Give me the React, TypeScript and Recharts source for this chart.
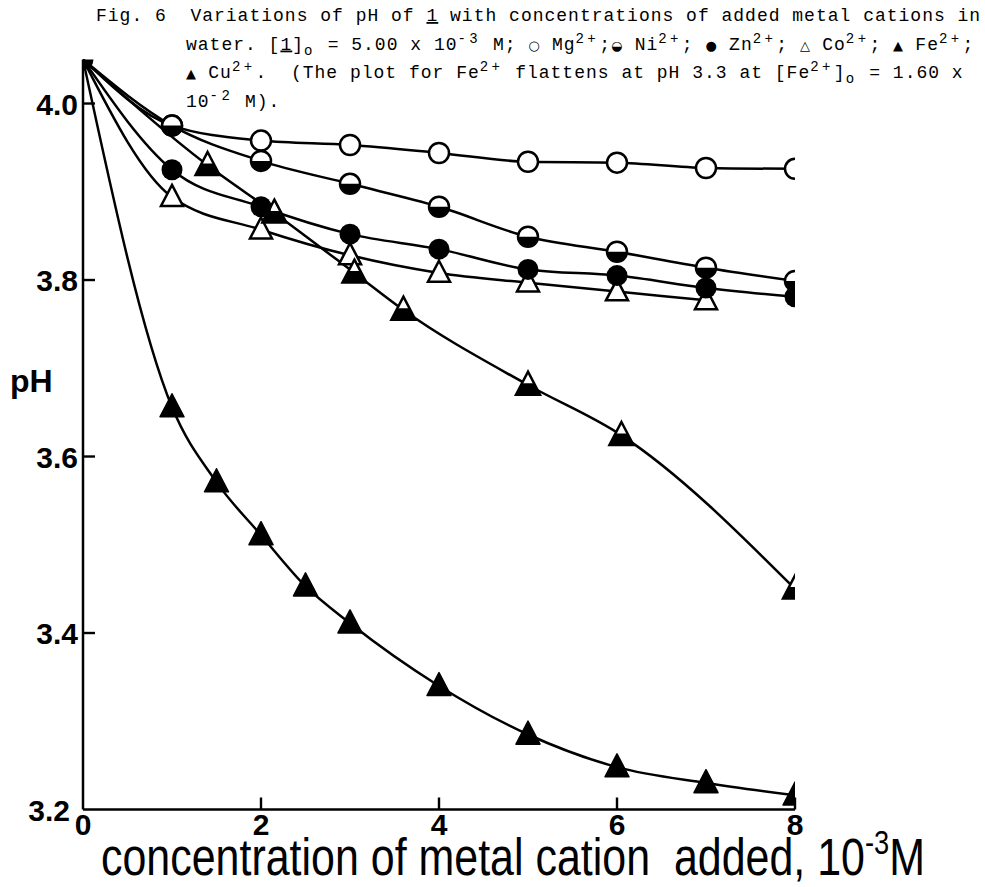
import React from 'react';
import { ComposedChart, Line, XAxis, YAxis } from 'recharts';

// ---- data (concentration in 10^-3 M, pH) ----
const xTicks = [0, 2, 4, 6, 8];
const yTicks = [3.2, 3.4, 3.6, 3.8, 4.0];

const mgConc = [0, 1, 2, 3, 4, 5, 6, 7, 8];
const mgPH = [4.05, 3.975, 3.958, 3.953, 3.944, 3.934, 3.933, 3.927, 3.926];

const niConc = [0, 1, 2, 3, 4, 5, 6, 7, 8];
const niPH = [4.05, 3.975, 3.935, 3.909, 3.883, 3.849, 3.832, 3.814, 3.799];

const znConc = [0, 1, 2, 3, 4, 5, 6, 7, 8];
const znPH = [4.05, 3.925, 3.883, 3.852, 3.835, 3.812, 3.805, 3.791, 3.781];

const coConc = [0, 1, 2, 3, 4, 5, 6, 7];
const coPH = [4.05, 3.894, 3.857, 3.828, 3.808, 3.797, 3.787, 3.777];

const feConc = [0, 1.4, 2.15, 3.05, 3.6, 5.0, 6.05, 8.0];
const fePH = [4.05, 3.93, 3.876, 3.808, 3.766, 3.681, 3.624, 3.45];

const cuConc = [0, 1, 1.5, 2, 2.5, 3, 4, 5, 6, 7, 8];
const cuPH = [4.05, 3.656, 3.571, 3.511, 3.453, 3.411, 3.34, 3.285, 3.248, 3.23, 3.216];

type Kind = 'openCircle' | 'halfCircle' | 'filledCircle' | 'openTri' | 'halfTri' | 'filledTri';

const rows = (xs: number[], ys: number[]) => xs.map((x, i) => ({ x, ph: ys[i] }));

const series: { name: string; data: { x: number; ph: number }[]; kind: Kind }[] = [
  { name: 'Mg', data: rows(mgConc, mgPH), kind: 'openCircle' },
  { name: 'Ni', data: rows(niConc, niPH), kind: 'halfCircle' },
  { name: 'Co', data: rows(coConc, coPH), kind: 'openTri' },
  { name: 'Fe', data: rows(feConc, fePH), kind: 'halfTri' },
  { name: 'Cu', data: rows(cuConc, cuPH), kind: 'filledTri' },
  { name: 'Zn', data: rows(znConc, znPH), kind: 'filledCircle' },
];

const INK = '#000';
const SW = 2.5;

function marker(kind: Kind, cx: number, cy: number, key: string) {
  const r = 10;
  if (kind === 'openCircle') {
    return <circle key={key} cx={cx} cy={cy} r={r} fill="#fff" stroke={INK} strokeWidth={SW} />;
  }
  if (kind === 'halfCircle') {
    return (
      <g key={key}>
        <circle cx={cx} cy={cy} r={r} fill="#fff" stroke={INK} strokeWidth={SW} />
        <path d={`M${cx - r},${cy} A${r},${r} 0 0 0 ${cx + r},${cy} Z`} fill={INK} />
      </g>
    );
  }
  if (kind === 'filledCircle') {
    return <circle key={key} cx={cx} cy={cy} r={r + 0.5} fill={INK} />;
  }
  const w = kind === 'openTri' ? 22 : 24;
  const h = kind === 'openTri' ? 21 : 23;
  const top = cy - 0.58 * h;
  const base = cy + 0.42 * h;
  const pts = `${cx},${top} ${cx + w / 2},${base} ${cx - w / 2},${base}`;
  if (kind === 'openTri') {
    return <polygon key={key} points={pts} fill="#fff" stroke={INK} strokeWidth={SW} strokeLinejoin="miter" />;
  }
  if (kind === 'filledTri') {
    return <polygon key={key} points={pts} fill={INK} stroke={INK} strokeWidth={1.5} strokeLinejoin="round" />;
  }
  const midY = top + 0.5 * h;
  const hw = w / 4;
  return (
    <g key={key}>
      <polygon points={pts} fill="#fff" stroke={INK} strokeWidth={SW} strokeLinejoin="miter" />
      <polygon points={`${cx - hw},${midY} ${cx + hw},${midY} ${cx + w / 2},${base} ${cx - w / 2},${base}`} fill={INK} />
    </g>
  );
}

const SANS = "'Liberation Sans', Arial, sans-serif";

const XTick = (props: any) => {
  const { x, y, payload } = props;
  return (
    <g>
      {payload.value !== 0 && <line x1={x} y1={y} x2={x} y2={y - 12} stroke={INK} strokeWidth={2.4} />}
      <text x={x} y={y + 25} textAnchor="middle" fontFamily={SANS} fontWeight="bold" fontSize={30} fill={INK}>
        {payload.value}
      </text>
    </g>
  );
};

const YTick = (props: any) => {
  const { x, y, payload } = props;
  const v = Number(payload.value);
  return (
    <g>
      {v > 3.2 && <line x1={x} y1={y} x2={x + 12} y2={y} stroke={INK} strokeWidth={2.4} />}
      <text x={v > 3.2 ? x - 5 : x - 13} y={y + 11} textAnchor="end" fontFamily={SANS} fontWeight="bold" fontSize={30} fill={INK}>
        {v.toFixed(1)}
      </text>
    </g>
  );
};

// ---- caption (typewriter) ----
const MONO = "'Liberation Mono', 'DejaVu Sans Mono', monospace";
const PITCH = 11.8;
type Mode = 'n' | 'sup' | 'sub' | 'u' | 'sym';
type Seg = [string, Mode];

const captionLines: { x: number; y: number; segs: Seg[] }[] = [
  {
    x: 96,
    y: 21,
    segs: [['Fig. 6  Variations of pH of ', 'n'], ['1', 'u'], [' with concentrations of added metal cations in', 'n']],
  },
  {
    x: 186,
    y: 49.5,
    segs: [
      ['water. [', 'n'], ['1', 'u'], [']', 'n'], ['o', 'sub'], [' = 5.00 x 10', 'n'], ['-3', 'sup'], [' M; ', 'n'],
      ['\u25CB', 'sym'], [' Mg', 'n'], ['2+', 'sup'], [';', 'n'], ['\u25D2', 'sym'], [' Ni', 'n'], ['2+', 'sup'], ['; ', 'n'],
      ['\u25CF', 'sym'], [' Zn', 'n'], ['2+', 'sup'], ['; ', 'n'], ['\u25B3', 'sym'], [' Co', 'n'], ['2+', 'sup'], ['; ', 'n'],
      ['\u25B2', 'sym'], [' Fe', 'n'], ['2+', 'sup'], [';', 'n'],
    ],
  },
  {
    x: 186,
    y: 78,
    segs: [
      ['\u25B2', 'sym'], [' Cu', 'n'], ['2+', 'sup'], ['.  (The plot for Fe', 'n'], ['2+', 'sup'],
      [' flattens at pH 3.3 at [Fe', 'n'], ['2+', 'sup'], [']', 'n'], ['o', 'sub'], [' = 1.60 x', 'n'],
    ],
  },
  { x: 186, y: 106.5, segs: [['10', 'n'], ['-2', 'sup'], [' M).', 'n']] },
];

function CaptionLine({ x, y, segs }: { x: number; y: number; segs: Seg[] }) {
  let shift = 0;
  const parts = segs.map(([t, m], i) => {
    const target = m === 'sup' ? -7 : m === 'sub' ? 5 : 0;
    const dy = target - shift;
    shift = target;
    const p: any = { dy };
    if (m === 'sup' || m === 'sub') {
      p.fontSize = 14;
      p.letterSpacing = PITCH - 0.6 * 14;
    }
    if (m === 'u') p.textDecoration = 'underline';
    if (m === 'sym') {
      p.fontFamily = "'DejaVu Sans', sans-serif";
      p.fontSize = 13;
      p.letterSpacing = 0.5;
    }
    return (
      <tspan key={i} {...p}>
        {t}
      </tspan>
    );
  });
  return (
    <text x={x} y={y} xmlSpace="preserve" style={{ whiteSpace: 'pre' }}>
      {parts}
    </text>
  );
}

const TITLE_SX = 0.8;

export default function App() {
  return (
    <div style={{ position: 'absolute', left: 0, top: 0, width: 985, height: 887, background: '#fff' }}>
      <div style={{ position: 'absolute', left: 0, top: 0 }}>
        <ComposedChart width={985} height={887} margin={{ top: 59.4, right: 190, bottom: 17.5, left: 23 }}>
          <XAxis
            type="number"
            dataKey="x"
            domain={[0, 8]}
            ticks={xTicks}
            allowDataOverflow
            height={60}
            axisLine={{ stroke: INK, strokeWidth: 2.5 }}
            tickLine={false}
            tickSize={0}
            tickMargin={0}
            tick={<XTick />}
            interval={0}
          />
          <YAxis
            type="number"
            dataKey="ph"
            domain={[3.2, 4.05]}
            ticks={yTicks}
            allowDataOverflow
            width={60}
            axisLine={{ stroke: INK, strokeWidth: 2.5 }}
            tickLine={false}
            tickSize={0}
            tickMargin={0}
            tick={<YTick />}
            interval={0}
          />
          {series.map((s) => (
            <Line
              key={s.name}
              data={s.data}
              dataKey="ph"
              type="monotone"
              stroke={INK}
              strokeWidth={2.5}
              isAnimationActive={false}
              dot={(p: any) =>
                p.index === 0 && s.kind !== 'filledCircle'
                  ? <g key={`${s.name}-${p.index}`} />
                  : marker(s.kind, p.cx, p.cy, `${s.name}-${p.index}`)
              }
              activeDot={false}
            />
          ))}
        </ComposedChart>
      </div>
      <svg width={985} height={887} style={{ position: 'absolute', left: 0, top: 0, pointerEvents: 'none' }}>
        <g fontFamily={MONO} fontSize={18} fill={INK} letterSpacing={PITCH - 10.8}>
          {captionLines.map((l, i) => (
            <CaptionLine key={i} x={l.x} y={l.y} segs={l.segs} />
          ))}
        </g>
        <text x={10} y={392} fontFamily={SANS} fontWeight="bold" fontSize={32} fill={INK}>pH</text>
        <g transform={`translate(101,875) scale(${TITLE_SX},1)`}>
          <text
            x={0}
            y={0}
            fontFamily={SANS}
            fontSize={52}
            fill={INK}
            textLength={824 / TITLE_SX}
            lengthAdjust="spacingAndGlyphs"
            xmlSpace="preserve"
            style={{ whiteSpace: 'pre' }}
          >
            {'concentration of metal cation  added, 10'}
            <tspan dy={-21} fontSize={33}>-3</tspan>
            <tspan dy={21}>M</tspan>
          </text>
        </g>
      </svg>
    </div>
  );
}
